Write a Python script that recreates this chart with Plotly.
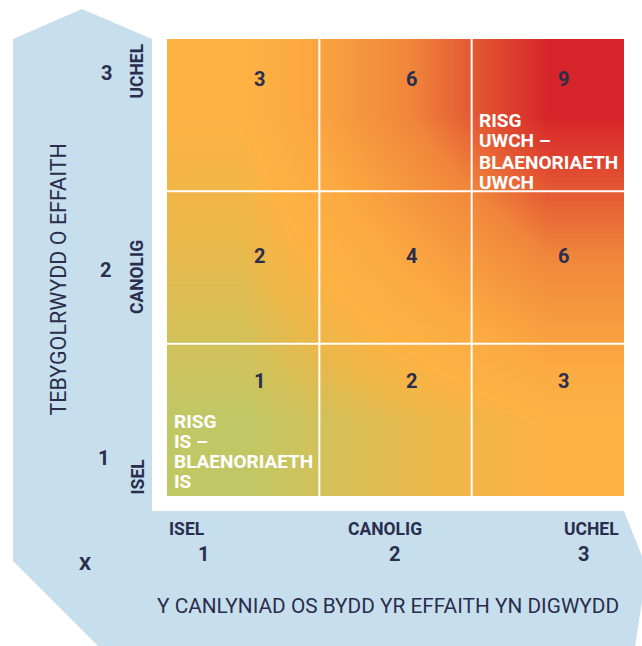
import plotly.graph_objects as go

W, H = 642, 646

# ---- data ----
impact_levels = [1, 2, 3]            # x: consequence
likelihood_levels = [1, 2, 3]        # y: likelihood
risk_scores = [[1, 2, 3],            # row likelihood 1
               [2, 4, 6],            # row likelihood 2
               [3, 6, 9]]            # row likelihood 3
x_tick_names = ["ISEL", "CANOLIG", "UCHEL"]
y_tick_names = ["ISEL", "CANOLIG", "UCHEL"]
x_title = "Y CANLYNIAD OS BYDD YR EFFAITH YN DIGWYDD"
y_title = "TEBYGOLRWYDD O EFFAITH"
low_note = ["RISG", "IS –", "BLAENORIAETH", "IS"]
high_note = ["RISG", "UWCH –", "BLAENORIAETH", "UWCH"]

NAVY = "#2a2d4e"
BLUE = "#c7dfec"
FONT = "Roboto, Liberation Sans, sans-serif"


def px(x):
    return x / W


def py(y):
    return 1 - y / H


fig = go.Figure()

fig.add_trace(go.Heatmap(
    x=impact_levels, y=likelihood_levels, z=risk_scores,
    zsmooth="best", showscale=False, hoverinfo="skip",
    zmin=1, zmax=9,
    colorscale=[
        [0.0, "#c0c866"],
        [0.15625, "#ecb749"],
        [0.25, "#fdb243"],
        [0.375, "#fcab42"],
        [0.65625, "#f0863b"],
        [1.0, "#d6242a"],
    ],
))

# background L-shaped arrow band
pts = [(82, 9), (152, 39), (152, 511), (624, 511), (647, 569), (633, 660),
       (112, 660), (13, 561), (13, 39)]
path = "M " + " L ".join(f"{px(a):.5f},{py(b):.5f}" for a, b in pts) + " Z"
shapes = [dict(type="path", path=path, xref="paper", yref="paper",
               fillcolor=BLUE, line=dict(width=0), layer="below")]

# white grid lines between cells
for v in [1.5, 2.5]:
    shapes.append(dict(type="line", xref="x", yref="y", x0=v, x1=v, y0=0.5, y1=3.5,
                       line=dict(color="white", width=2)))
    shapes.append(dict(type="line", xref="x", yref="y", x0=0.5, x1=3.5, y0=v, y1=v,
                       line=dict(color="white", width=2)))

ann = []
row_shift = {1: 39, 2: 12, 3: 36}
for r, yv in enumerate(likelihood_levels):
    for c, xv in enumerate(impact_levels):
        ann.append(dict(x=xv, y=yv, xref="x", yref="y", text=f"<b>{risk_scores[r][c]}</b>",
                        showarrow=False, xshift=16, yshift=row_shift[yv],
                        font=dict(family=FONT, size=20, color=NAVY)))


def label(text, x, y, size, bold=True, color=NAVY, angle=0, xanchor="center"):
    ann.append(dict(x=px(x), y=py(y), xref="paper", yref="paper",
                    text=f"<b>{text}</b>" if bold else text, showarrow=False,
                    textangle=angle, xanchor=xanchor, yanchor="middle",
                    font=dict(family=FONT, size=size, color=color)))


# x axis tick labels
x_name_pos = [186.5, 385, 591]
x_num_pos = [203, 394, 583]
for name, num, xn, xu in zip(x_tick_names, impact_levels, x_name_pos, x_num_pos):
    label(name, xn, 529, 17.5)
    label(str(num), xu, 554, 20)

# y axis tick labels
y_name_pos = [476.5, 277, 71.5]
y_num_pos = [(103.5, 458), (105.5, 270), (106, 73)]
for name, num, yn, (nx, ny) in zip(y_tick_names, likelihood_levels, y_name_pos, y_num_pos):
    label(name, 137, yn, 17.5, angle=-90)
    label(str(num), nx, ny, 20)

label(y_title, 57.5, 280, 21.5, bold=False, angle=-90)
label(x_title, 388, 606, 20.8, bold=False)
label("X", 85.5, 563, 19)

for i, t in enumerate(low_note):
    label(t, 172, 421 + 20 * i, 19, color="white", xanchor="left")
for i, t in enumerate(high_note):
    label(t, 477, 120 + 21 * i, 19, color="white", xanchor="left")

fig.update_layout(
    width=W, height=H, margin=dict(l=0, r=0, t=0, b=0),
    paper_bgcolor="white", plot_bgcolor="rgba(0,0,0,0)",
    xaxis=dict(domain=[167 / W, 624 / W], range=[0.5, 3.5], visible=False, fixedrange=True),
    yaxis=dict(domain=[1 - 496 / H, 1 - 39 / H], range=[0.5, 3.5], visible=False, fixedrange=True),
    shapes=shapes, annotations=ann, showlegend=False,
)

fig.write_html("out.html", config={"displayModeBar": False},
               post_script="document.body.style.margin='0';document.body.style.overflow='hidden';")
